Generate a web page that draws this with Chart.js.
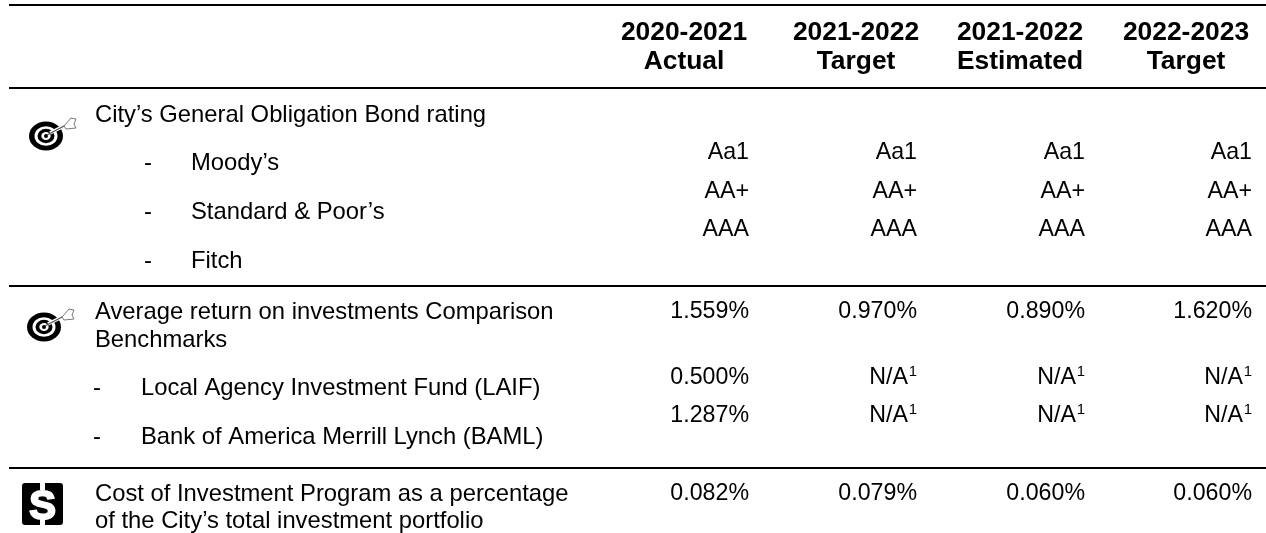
<!DOCTYPE html>
<html>
<head>
<meta charset="utf-8">
<style>
  html, body { margin: 0; padding: 0; background: #fff; }
  #wrap { width: 1266px; height: 533px; }
</style>
<script src="https://cdn.jsdelivr.net/npm/chart.js@4/dist/chart.umd.min.js"></script>
</head>
<body>
<div id="wrap"><canvas id="table"></canvas></div>
<script>
// table content
const headerYears = ["2020-2021", "2021-2022", "2021-2022", "2022-2023"];
const headerKinds = ["Actual", "Target", "Estimated", "Target"];
const rowText = [
  "City\u2019s General Obligation Bond rating",
  "Moody\u2019s",
  "Standard & Poor\u2019s",
  "Fitch",
  "Average return on investments Comparison",
  "Benchmarks",
  "Local Agency Investment Fund (LAIF)",
  "Bank of America Merrill Lynch (BAML)",
  "Cost of Investment Program as a percentage",
  "of the City\u2019s total investment portfolio",
];
const actual2021 = ["Aa1", "AA+", "AAA", "1.559%", "0.500%", "1.287%", "0.082%"];
const target2122 = ["Aa1", "AA+", "AAA", "0.970%", "N/A", "N/A", "0.079%"];
const estimated2122 = ["Aa1", "AA+", "AAA", "0.890%", "N/A", "N/A", "0.060%"];
const target2223 = ["Aa1", "AA+", "AAA", "1.620%", "N/A", "N/A", "0.060%"];

// layout, in page pixels
const columnRight = [749, 917, 1085, 1252];
const columnCenter = [684, 856, 1020, 1186];
const valueRows = [153, 192, 230, 312, 378, 415.5, 494];
const labelRows = [115, 163, 212, 261, 312, 340, 388.5, 437, 494, 521];
const labelLeft = [95, 191, 191, 191, 95, 95, 141, 141, 95, 95];
const dashLeft = [null, 144, 144, 144, null, null, 93, 93, null, null];
const ruleRows = [5, 88, 286, 468];
const labelFont = "23.8px 'Liberation Sans'";
const cellFont = "23.2px 'Liberation Sans'";
const headFont = "bold 26.4px 'Liberation Sans'";

const columnSeries = [actual2021, target2122, estimated2122, target2223];

function textPoints(values, xs, ys) {
  return values.map((t, i) => ({ x: Array.isArray(xs) ? xs[i] : xs, y: ys[i], text: t }));
}

function drawTarget(ctx, cx, cy) {
  const rings = [[17, 14.5, "#000"], [11.5, 9.8, "#fff"], [8.5, 7.2, "#000"], [4.7, 4, "#fff"], [2, 2, "#000"]];
  ctx.save();
  rings.forEach(([rx, ry, colour]) => {
    ctx.fillStyle = colour;
    ctx.beginPath();
    ctx.ellipse(cx, cy, rx, ry, 0, 0, Math.PI * 2);
    ctx.fill();
  });
  // arrow shaft with a white edge so it reads over the black ring
  ctx.strokeStyle = "#fff";
  ctx.lineWidth = 3.5;
  ctx.beginPath();
  ctx.moveTo(cx + 4, cy - 3);
  ctx.lineTo(cx + 20, cy - 11);
  ctx.stroke();
  ctx.strokeStyle = "#555";
  ctx.lineWidth = 1.4;
  ctx.beginPath();
  ctx.moveTo(cx + 1, cy - 1);
  ctx.lineTo(cx + 20, cy - 11);
  ctx.stroke();
  // feathers
  ctx.lineWidth = 1;
  ctx.strokeStyle = "#777";
  ctx.fillStyle = "#fff";
  ctx.beginPath();
  ctx.moveTo(cx + 18, cy - 10);
  ctx.lineTo(cx + 25, cy - 18);
  ctx.lineTo(cx + 30, cy - 17);
  ctx.lineTo(cx + 28, cy - 12);
  ctx.lineTo(cx + 30, cy - 8);
  ctx.lineTo(cx + 20, cy - 7);
  ctx.closePath();
  ctx.fill();
  ctx.stroke();
  ctx.restore();
}

function drawDollar(ctx, cx, cy) {
  ctx.save();
  ctx.fillStyle = "#000";
  ctx.beginPath();
  ctx.roundRect(cx - 20.5, cy - 21, 41, 42, 3);
  ctx.fill();
  ctx.fillStyle = "#fff";
  ctx.strokeStyle = "#fff";
  ctx.lineWidth = 2;
  ctx.font = "bold 40px 'Liberation Sans'";
  ctx.textAlign = "center";
  ctx.textBaseline = "alphabetic";
  ctx.fillText("S", cx, cy + 15);
  ctx.strokeText("S", cx, cy + 15);
  ctx.fillRect(cx - 2.5, cy - 21, 5, 7);
  ctx.fillRect(cx - 2.5, cy + 15, 5, 6);
  ctx.restore();
}

const tablePlugin = {
  id: "tableText",
  afterDatasetsDraw(chart) {
    const { ctx, scales } = chart;
    ctx.save();
    ctx.fillStyle = "#000";
    ctx.textBaseline = "middle";

    chart.data.datasets.forEach((ds, d) => {
      if (!ds.kind) return;
      const font = ds.kind === "head" ? headFont : ds.kind === "cell" ? cellFont : labelFont;
      chart.getDatasetMeta(d).data.forEach((el, i) => {
        const t = ds.data[i].text;
        ctx.font = font;
        ctx.textAlign = ds.align;
        if (t === "N/A") {
          // footnote mark sits at the right edge of the cell
          ctx.font = "15px 'Liberation Sans'";
          ctx.fillText("1", el.x, el.y - 6);
          ctx.font = font;
          ctx.fillText(t, el.x - 9, el.y);
        } else {
          ctx.fillText(t, el.x, el.y);
        }
      });
    });

    drawTarget(ctx, scales.x.getPixelForValue(46), scales.y.getPixelForValue(136));
    drawTarget(ctx, scales.x.getPixelForValue(44), scales.y.getPixelForValue(327));
    drawDollar(ctx, scales.x.getPixelForValue(42.5), scales.y.getPixelForValue(504));
    ctx.restore();
  },
};

const datasets = [];
columnSeries.forEach((values, c) => {
  datasets.push({ kind: "cell", align: "right", pointRadius: 0, data: textPoints(values, columnRight[c], valueRows) });
});
datasets.push({ kind: "label", align: "left", pointRadius: 0, data: textPoints(rowText, labelLeft, labelRows) });
datasets.push({
  kind: "label", align: "left", pointRadius: 0,
  data: dashLeft.flatMap((x, i) => (x === null ? [] : [{ x, y: labelRows[i], text: "-" }])),
});
datasets.push({ kind: "head", align: "center", pointRadius: 0, data: textPoints(headerYears, columnCenter, headerYears.map(() => 32.3)) });
datasets.push({ kind: "head", align: "center", pointRadius: 0, data: textPoints(headerKinds, columnCenter, headerKinds.map(() => 61.8)) });
ruleRows.forEach((y) => {
  datasets.push({
    showLine: true, borderColor: "#000", borderWidth: 2, pointRadius: 0,
    data: [{ x: 9, y }, { x: 1266, y }],
  });
});

new Chart(document.getElementById("table"), {
  type: "scatter",
  data: { datasets },
  options: {
    responsive: true,
    maintainAspectRatio: false,
    animation: false,
    layout: { padding: 0 },
    plugins: { legend: { display: false }, tooltip: { enabled: false } },
    scales: {
      x: { type: "linear", min: 0, max: 1266, display: false },
      y: { type: "linear", min: 0, max: 533, reverse: true, display: false },
    },
  },
  plugins: [tablePlugin],
});
</script>
</body>
</html>
